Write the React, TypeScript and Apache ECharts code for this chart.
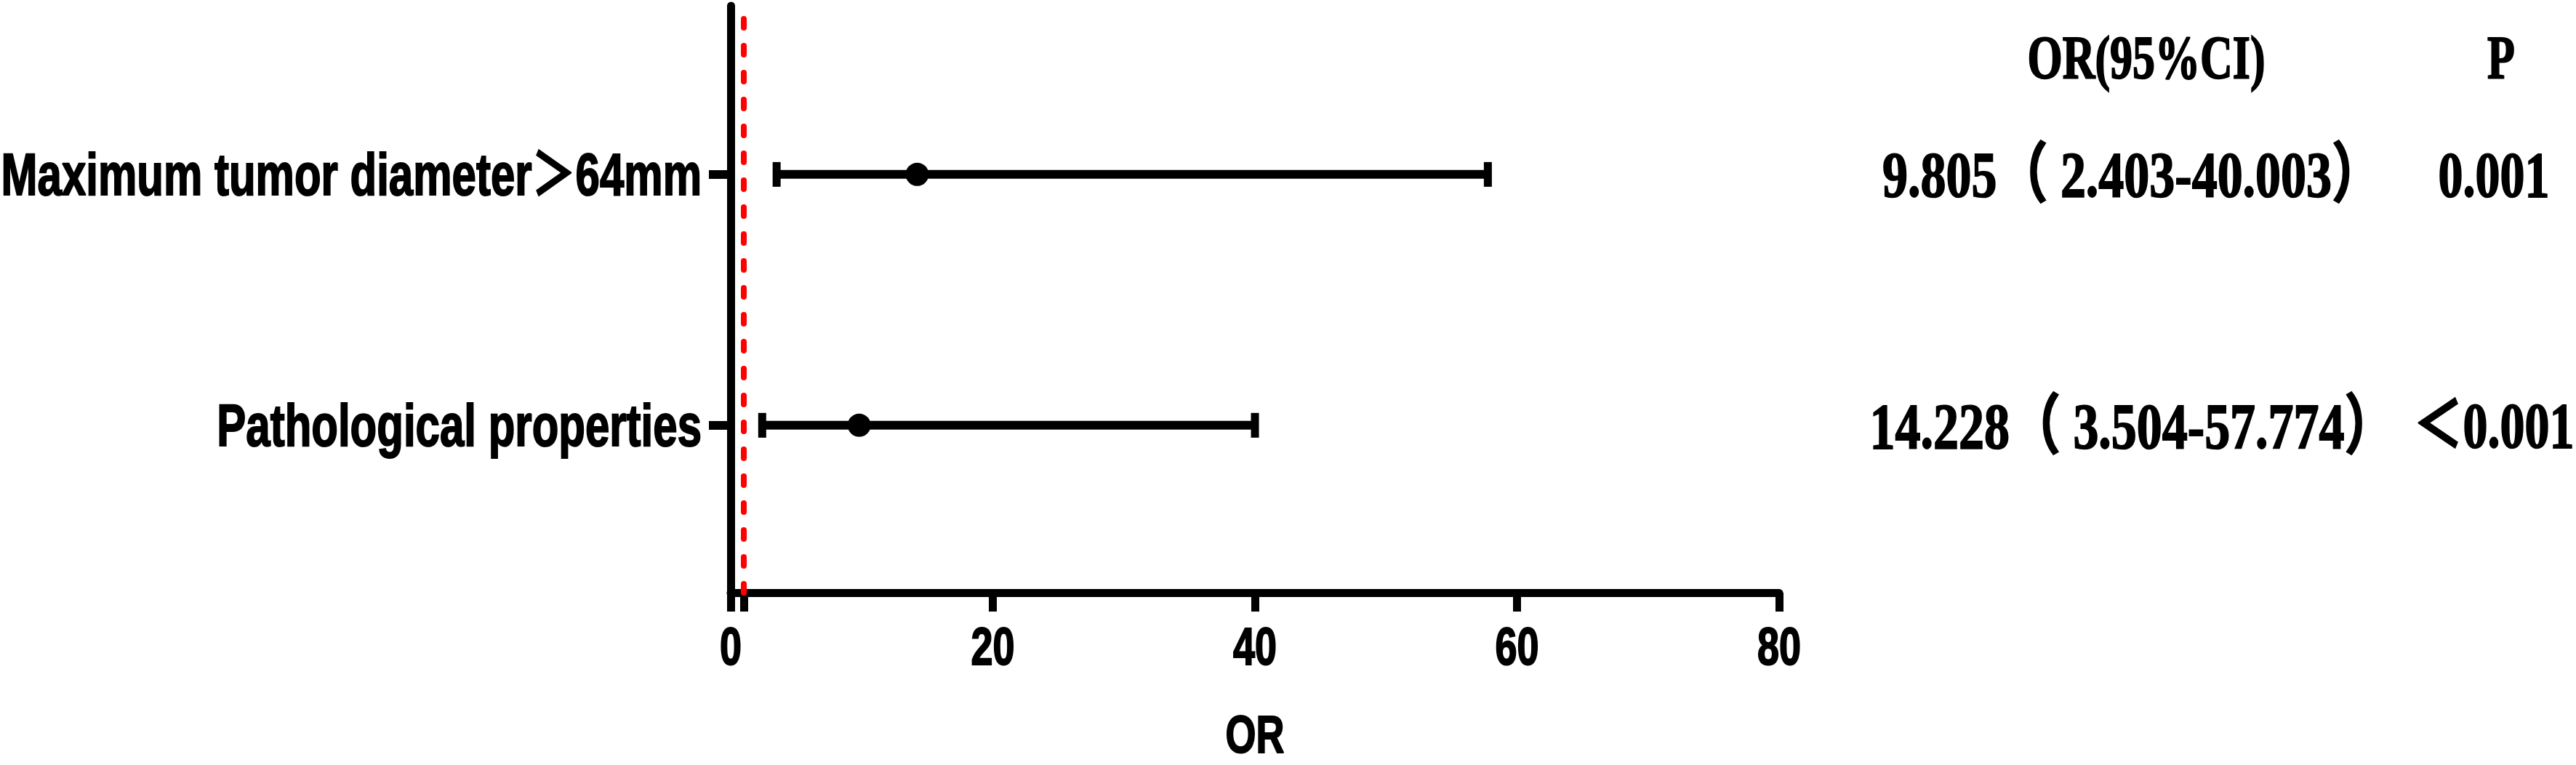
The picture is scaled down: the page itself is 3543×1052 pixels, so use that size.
import React, { useEffect, useRef } from "react";
import * as echarts from "echarts";

const categories = ["Maximum tumor diameter＞64mm", "Pathological properties"];
const rowPos = [2, 1];
const orPoint = [14.228, 9.805];
const ciLow = [3.504, 2.403];
const ciHigh = [57.774, 40.003];
const orText = ["9.805（ 2.403-40.003）", "14.228（ 3.504-57.774）"];
const pText = ["0.001", "＜0.001"];
const headerOR = "OR(95%CI)";
const headerP = "P";
const xTicks = [0, 20, 40, 60, 80];
const xMin = 0;
const xMax = 80;
const xInterval = 20;
const refValue = 1;
const xName = "OR";

const W = 3543;
const H = 1052;
const SANS = "'Liberation Sans', Arial, 'Noto Sans CJK SC', sans-serif";
const SERIF = "'Liberation Serif', 'Times New Roman', 'Noto Sans CJK SC', serif";
const STRETCH = 1.35;

export default function App() {
  const ref = useRef<HTMLDivElement>(null);
  useEffect(() => {
    document.body.style.margin = "0";
    const chart = echarts.init(ref.current!, null, { renderer: "svg" });
    const yMin = 0.333;
    const yMax = 2.672;
    const orCol = 2933;
    const pCol = 3430;
    const heavy = { stroke: "#000", lineWidth: 1.5 };
    chart.setOption({
      animation: false,
      backgroundColor: "#ffffff",
      grid: { left: 1005, right: W - 2447, top: 8, height: 807 },
      xAxis: {
        type: "value",
        min: xMin,
        max: xMax,
        interval: xInterval,
        splitLine: { show: false },
        axisLine: { show: true, onZero: false, lineStyle: { color: "#000", width: 11 } },
        axisTick: { show: true, length: 26, customValues: [...xTicks, refValue], lineStyle: { color: "#000", width: 11 } },
        axisLabel: { show: false },
      },
      yAxis: {
        type: "value",
        min: yMin,
        max: yMax,
        splitLine: { show: false },
        axisLine: { show: true, onZero: false, lineStyle: { color: "#000", width: 11 } },
        axisTick: { show: true, length: 30, customValues: rowPos, lineStyle: { color: "#000", width: 12 } },
        axisLabel: { show: false },
      },
      graphic: [
        {
          type: "text",
          x: 1726,
          y: 1010,
          scaleY: STRETCH,
          style: { text: xName, fill: "#000", ...heavy, font: `bold 54px ${SANS}`, align: "center", verticalAlign: "middle", textAlign: "center", textVerticalAlign: "middle" },
        },
        {
          type: "text",
          x: 2952,
          y: 80,
          scaleY: STRETCH,
          style: { text: headerOR, fill: "#000", ...heavy, font: `bold 62px ${SERIF}`, align: "center", verticalAlign: "middle", textAlign: "center", textVerticalAlign: "middle" },
        },
        {
          type: "text",
          x: 3440,
          y: 80,
          scaleY: STRETCH,
          style: { text: headerP, fill: "#000", ...heavy, font: `bold 62px ${SERIF}`, align: "center", verticalAlign: "middle", textAlign: "center", textVerticalAlign: "middle" },
        },
      ],
      series: [
        {
          type: "custom",
          data: rowPos.map((y, i) => [ciLow[i], ciHigh[i], y]),
          encode: { x: [0, 1], y: 2 },
          silent: true,
          renderItem: (params: any, api: any) => {
            const lo = api.coord([api.value(0), api.value(2)]);
            const hi = api.coord([api.value(1), api.value(2)]);
            const half = 17;
            return {
              type: "group",
              children: [
                { type: "line", shape: { x1: lo[0], y1: lo[1], x2: hi[0], y2: hi[1] }, style: { stroke: "#000", lineWidth: 12 } },
                { type: "line", shape: { x1: lo[0], y1: lo[1] - half, x2: lo[0], y2: lo[1] + half }, style: { stroke: "#000", lineWidth: 11 } },
                { type: "line", shape: { x1: hi[0], y1: hi[1] - half, x2: hi[0], y2: hi[1] + half }, style: { stroke: "#000", lineWidth: 11 } },
              ],
            };
          },
          z: 3,
        },
        {
          type: "scatter",
          data: rowPos.map((y, i) => [orPoint[i], y]),
          symbol: "circle",
          symbolSize: 32,
          itemStyle: { color: "#000", opacity: 1 },
          z: 4,
          markLine: {
            silent: true,
            symbol: "none",
            label: { show: false },
            lineStyle: { color: "#ff0000", width: 8, type: [12, 25], cap: "round", opacity: 1 },
            data: [{ xAxis: refValue }],
          },
        },
        {
          // row labels (left) and statistics columns (right)
          type: "custom",
          data: rowPos.map((y, i) => [xMin, y, i]),
          encode: { x: 0, y: 1 },
          silent: true,
          renderItem: (params: any, api: any) => {
            const p = api.coord([api.value(0), api.value(1)]);
            const i = api.value(2);
            const mk = (text: string, x: number, font: string, align: string, sy: number) => ({
              type: "text",
              x,
              y: p[1],
              scaleY: sy,
              style: { text, fill: "#000", ...heavy, font, align, verticalAlign: "middle" },
            });
            return {
              type: "group",
              children: [
                mk(categories[i], p[0] - 40, `bold 60px ${SANS}`, "right", STRETCH),
                mk(orText[i], orCol, `bold 70px ${SERIF}`, "center", 1.28),
                mk(pText[i], pCol, `bold 68px ${SERIF}`, "center", 1.3),
              ],
            };
          },
        },
        {
          // x tick labels
          type: "custom",
          data: xTicks.map((v) => [v, yMin]),
          encode: { x: 0, y: 1 },
          silent: true,
          renderItem: (params: any, api: any) => {
            const p = api.coord([api.value(0), api.value(1)]);
            return {
              type: "text",
              x: p[0],
              y: p[1] + 38,
              scaleY: STRETCH,
              style: { text: String(api.value(0)), fill: "#000", ...heavy, font: `bold 54px ${SANS}`, align: "center", verticalAlign: "top" },
            };
          },
        },
      ],
    });
    return () => chart.dispose();
  }, []);
  return <div ref={ref} style={{ width: W, height: H }} />;
}
